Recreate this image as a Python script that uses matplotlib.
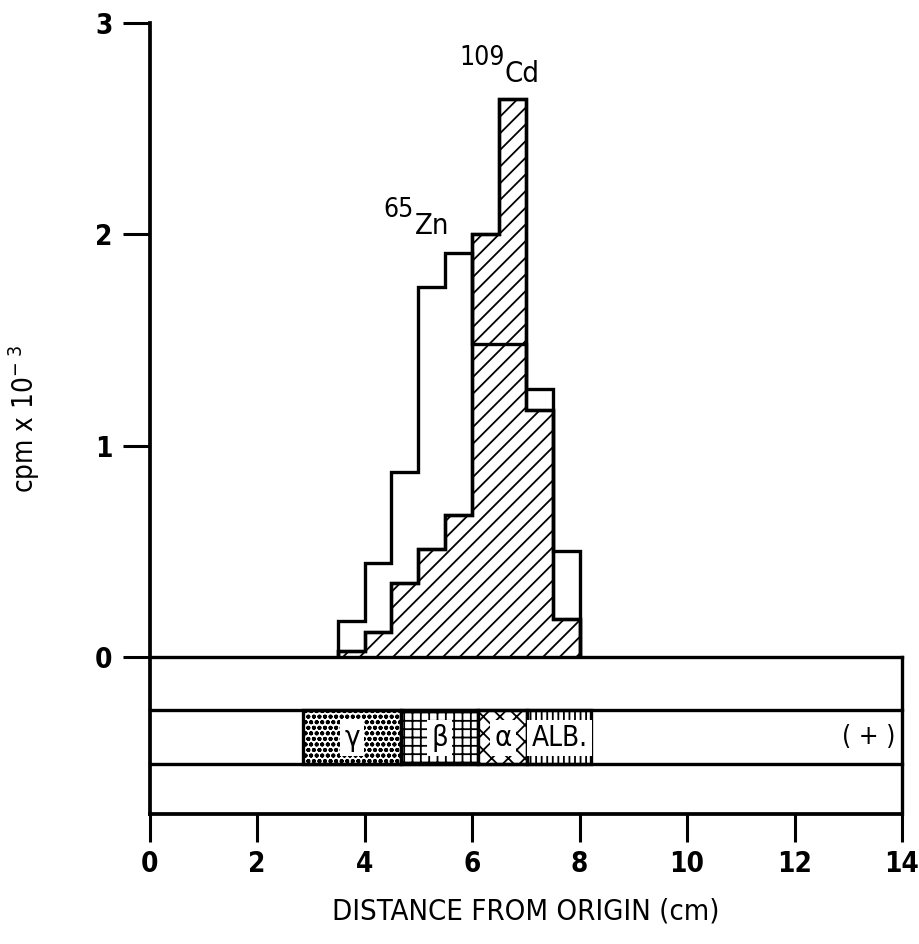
import matplotlib
matplotlib.use("Agg")
import matplotlib.pyplot as plt
from matplotlib import font_manager

# ---- data -------------------------------------------------------------
edges = [3.5, 4.0, 4.5, 5.0, 5.5, 6.0, 6.5, 7.0, 7.5, 8.0]
zn65 = [0.17, 0.445, 0.875, 1.75, 1.91, 1.48, 1.48, 1.27, 0.50]   # cpm x 10^-3
cd109 = [0.03, 0.12, 0.35, 0.51, 0.67, 2.00, 2.64, 1.17, 0.18]   # cpm x 10^-3

fractions = ["γ", "β", "α", "ALB."]
fraction_bounds = [2.86, 4.67, 6.12, 7.03, 8.22]
fraction_hatch = ["ooo", "++", "xx", "|||"]

x_ticks = [0, 2, 4, 6, 8, 10, 12, 14]
y_ticks = [0, 1, 2, 3]

# ---- style ------------------------------------------------------------
fonts = font_manager.fontManager.ttflist
names = {f.name for f in fonts}
if "Liberation Sans Narrow" in names:
    FONT, STRETCH = "Liberation Sans Narrow", "normal"
else:
    FONT = "DejaVu Sans"
    has_cond = any(f.name == "DejaVu Sans" and f.stretch == "condensed" for f in fonts)
    STRETCH = "condensed" if has_cond else "normal"
plt.rcParams["font.family"] = [FONT, "DejaVu Sans"]
plt.rcParams["font.stretch"] = STRETCH
plt.rcParams["mathtext.fontset"] = "custom"
plt.rcParams["mathtext.rm"] = FONT
plt.rcParams["hatch.linewidth"] = 1.3

LW = 2.4

fig = plt.figure(figsize=(9.2, 9.44), dpi=100)
ax = fig.add_axes([0.1625, 0.1377, 0.818, 0.8379])
ax.set_xlim(0, 14)
y_bottom = -0.743
ax.set_ylim(y_bottom, 3.0)

# ---- histograms -------------------------------------------------------
ax.stairs(cd109, edges, fill=True, facecolor="white", edgecolor="black",
          hatch="//", linewidth=LW, zorder=2)
ax.stairs(cd109, edges, fill=False, color="black", linewidth=LW, zorder=3)
ax.stairs(zn65, edges, fill=False, color="black", linewidth=LW, zorder=4)

ax.text(4.92, 2.08, "65", fontsize=19, ha="right", va="baseline")
ax.text(4.94, 2.00, "Zn", fontsize=21, ha="left", va="baseline")
ax.text(6.60, 2.80, "109", fontsize=19, ha="right", va="baseline")
ax.text(6.61, 2.72, "Cd", fontsize=21, ha="left", va="baseline")

# ---- electrophoresis strip -------------------------------------------
band_lo, band_hi = -0.506, -0.251
for yy in (0.0, band_hi, band_lo):
    ax.plot([0, 14], [yy, yy], color="black", lw=LW, clip_on=False, zorder=5)
ax.plot([14, 14], [0, y_bottom], color="black", lw=LW, clip_on=False, zorder=5)

for i, (name, h) in enumerate(zip(fractions, fraction_hatch)):
    x0, x1 = fraction_bounds[i], fraction_bounds[i + 1]
    ax.bar(x0, band_hi - band_lo, width=x1 - x0, bottom=band_lo, align="edge",
           facecolor="white", edgecolor="black", hatch=h, linewidth=LW, zorder=4)
    ax.text((x0 + x1) / 2, (band_lo + band_hi) / 2 - 0.005, name,
            fontsize=21 if name != "ALB." else 20, ha="center", va="center",
            zorder=6,
            bbox=dict(boxstyle="square,pad=0.15", facecolor="white", edgecolor="none"))

ax.text(13.37, (band_lo + band_hi) / 2, "( + )", fontsize=19, ha="center", va="center")

# ---- axes -------------------------------------------------------------
for s in ("top", "right"):
    ax.spines[s].set_visible(False)
for s in ("left", "bottom"):
    ax.spines[s].set_linewidth(2.7)

ax.set_xticks(x_ticks)
ax.set_yticks(y_ticks)
ax.set_xticklabels([str(v) for v in x_ticks])
ax.set_yticklabels([str(v) for v in y_ticks])
ax.tick_params(axis="both", direction="out", width=2.2, labelsize=20)
ax.tick_params(axis="x", length=20, pad=6)
ax.tick_params(axis="y", length=19.5, pad=7)
for lab in ax.get_xticklabels() + ax.get_yticklabels():
    lab.set_fontweight("bold")

ax.set_xlabel("DISTANCE FROM ORIGIN (cm)", fontsize=21)
ax.xaxis.set_label_coords(0.5, -0.105)
ax.set_ylabel(r"cpm x 10$^{-\ 3}$", fontsize=20)
ax.yaxis.set_label_coords(-0.143, 0.5)

fig.savefig("out.png", dpi=100)
